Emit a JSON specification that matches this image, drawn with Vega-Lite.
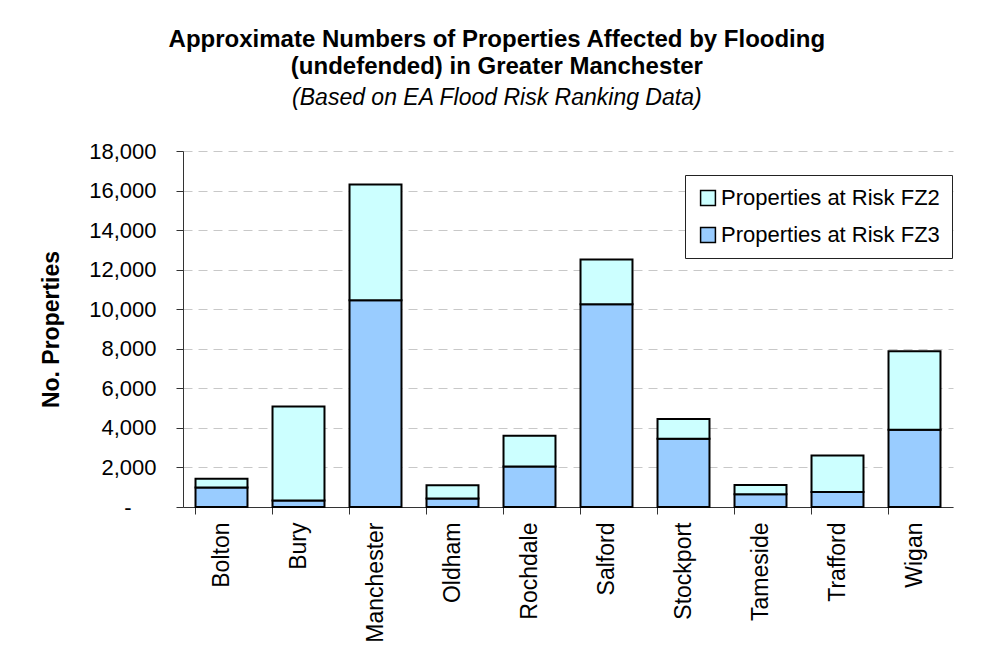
{
  "$schema": "https://vega.github.io/schema/vega-lite/v6.json",
  "width": 770,
  "height": 356,
  "autosize": "none",
  "padding": {"left": 183, "top": 151, "right": 32, "bottom": 162},
  "background": "white",
  "title": {
    "text": ["Approximate Numbers of Properties Affected by Flooding", "(undefended) in Greater Manchester"],
    "subtitle": "(Based on EA Flood Risk Ranking Data)",
    "font": "Liberation Sans",
    "fontSize": 24,
    "fontWeight": "bold",
    "color": "black",
    "lineHeight": 27,
    "subtitleFont": "Liberation Sans",
    "subtitleFontSize": 23,
    "subtitleFontStyle": "italic",
    "subtitleColor": "black",
    "subtitlePadding": 8,
    "anchor": "middle",
    "frame": "bounds",
    "offset": 30
  },
  "data": {
    "values": [
      {"district": "Bolton", "series": "Properties at Risk FZ3", "count": 980},
      {"district": "Bolton", "series": "Properties at Risk FZ2", "count": 450},
      {"district": "Bury", "series": "Properties at Risk FZ3", "count": 330},
      {"district": "Bury", "series": "Properties at Risk FZ2", "count": 4750},
      {"district": "Manchester", "series": "Properties at Risk FZ3", "count": 10450},
      {"district": "Manchester", "series": "Properties at Risk FZ2", "count": 5850},
      {"district": "Oldham", "series": "Properties at Risk FZ3", "count": 430},
      {"district": "Oldham", "series": "Properties at Risk FZ2", "count": 670},
      {"district": "Rochdale", "series": "Properties at Risk FZ3", "count": 2050},
      {"district": "Rochdale", "series": "Properties at Risk FZ2", "count": 1550},
      {"district": "Salford", "series": "Properties at Risk FZ3", "count": 10250},
      {"district": "Salford", "series": "Properties at Risk FZ2", "count": 2270},
      {"district": "Stockport", "series": "Properties at Risk FZ3", "count": 3450},
      {"district": "Stockport", "series": "Properties at Risk FZ2", "count": 1000},
      {"district": "Tameside", "series": "Properties at Risk FZ3", "count": 640},
      {"district": "Tameside", "series": "Properties at Risk FZ2", "count": 470},
      {"district": "Trafford", "series": "Properties at Risk FZ3", "count": 760},
      {"district": "Trafford", "series": "Properties at Risk FZ2", "count": 1850},
      {"district": "Wigan", "series": "Properties at Risk FZ3", "count": 3900},
      {"district": "Wigan", "series": "Properties at Risk FZ2", "count": 3980}
    ]
  },
  "mark": {"type": "bar", "stroke": "black", "strokeWidth": 2},
  "encoding": {
    "x": {
      "field": "district",
      "type": "nominal",
      "sort": null,
      "scale": {"paddingInner": 0.325, "paddingOuter": 0.1625},
      "axis": {
        "title": null,
        "labelAngle": -90,
        "labelFont": "Liberation Sans",
        "labelFontSize": 23,
        "labelColor": "black",
        "labelPadding": 8,
        "bandPosition": 0,
        "tickSize": 7,
        "tickColor": "#333333",
        "domainColor": "#333333",
        "grid": false
      }
    },
    "y": {
      "aggregate": "sum",
      "field": "count",
      "type": "quantitative",
      "stack": "zero",
      "scale": {"domain": [0, 18000], "nice": false},
      "axis": {
        "title": "No. Properties",
        "titleFont": "Liberation Sans",
        "titleFontSize": 23,
        "titleFontWeight": "bold",
        "titleColor": "black",
        "titlePadding": 25,
        "values": [0, 2000, 4000, 6000, 8000, 10000, 12000, 14000, 16000, 18000],
        "labelExpr": "datum.value == 0 ? '-' : format(datum.value, ',')",
        "labelFont": "Liberation Sans",
        "labelFontSize": 22,
        "labelColor": "black",
        "labelPadding": {"condition": {"test": "datum.value == 0", "value": 45}, "value": 20},
        "tickSize": 7,
        "tickColor": "#333333",
        "domainColor": "#333333",
        "grid": true,
        "gridColor": "#c8c8c8",
        "gridDash": [9, 6],
        "gridWidth": 1
      }
    },
    "color": {
      "field": "series",
      "type": "nominal",
      "scale": {
        "domain": ["Properties at Risk FZ2", "Properties at Risk FZ3"],
        "range": ["#ccffff", "#99ccff"]
      },
      "legend": {
        "title": null,
        "orient": "none",
        "legendX": 502,
        "legendY": 24,
        "fillColor": "white",
        "strokeColor": "#222222",
        "padding": 12,
        "rowPadding": 15,
        "symbolType": "square",
        "symbolSize": 220,
        "symbolStrokeColor": "black",
        "symbolStrokeWidth": 1.5,
        "symbolOpacity": 1,
        "labelFont": "Liberation Sans",
        "labelFontSize": 22,
        "labelColor": "black",
        "labelLimit": 0,
        "labelOffset": 2
      }
    },
    "order": {"field": "series", "sort": "descending"}
  },
  "config": {
    "view": {"stroke": null}
  }
}
